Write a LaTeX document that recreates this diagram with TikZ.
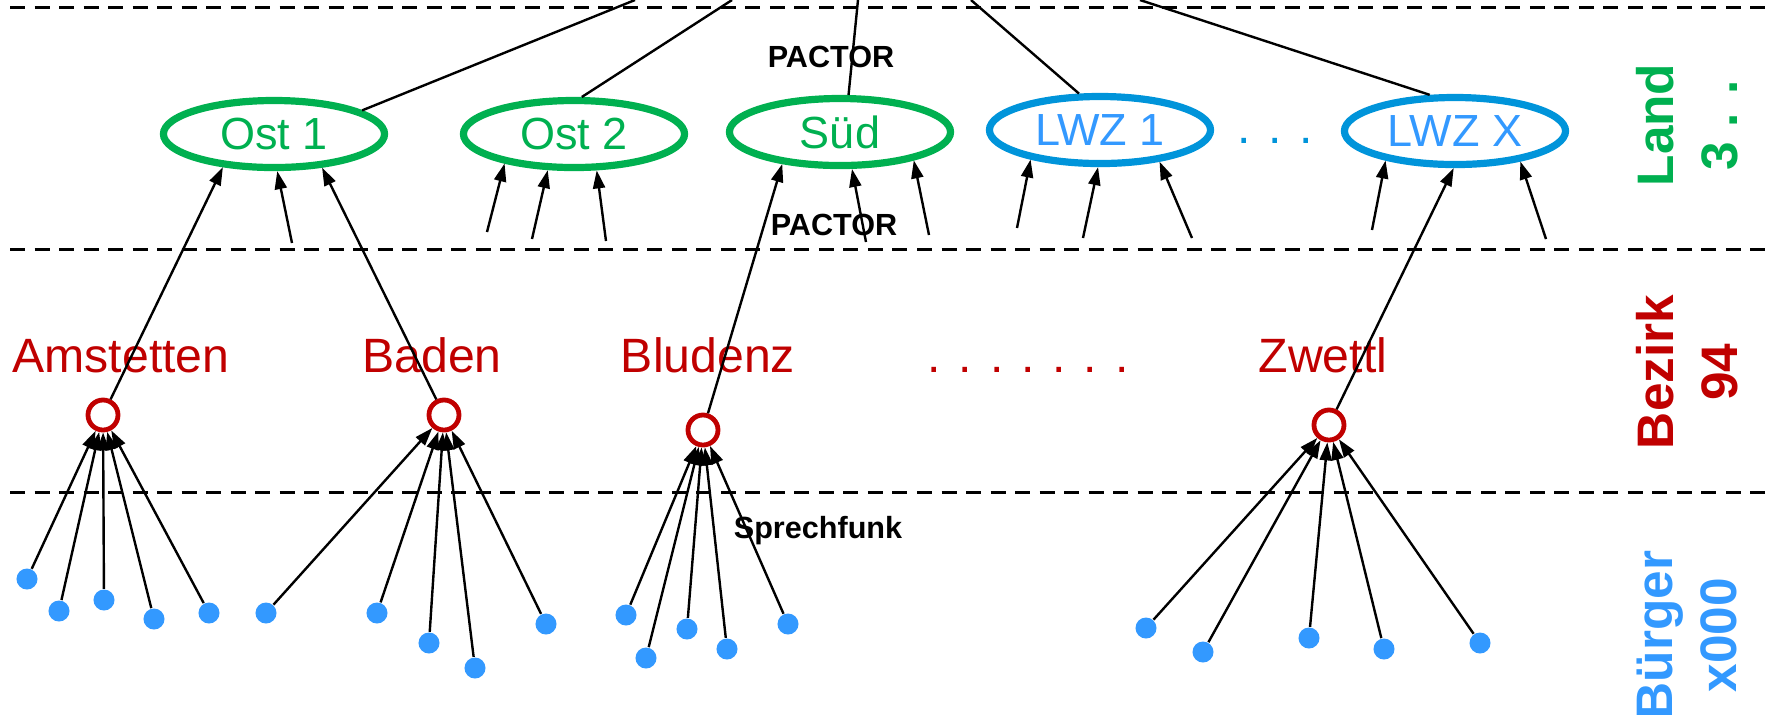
\documentclass[tikz,border=0pt]{standalone}
\usepackage{fontspec}
\setmainfont{Liberation Sans}
\usetikzlibrary{arrows.meta,shapes.geometric}
\definecolor{landgreen}{RGB}{0,176,80}
\definecolor{bezirkred}{RGB}{192,0,0}
\definecolor{lwzblue}{RGB}{0,148,218}
\definecolor{buergerblue}{RGB}{51,153,255}
\begin{document}
\begin{tikzpicture}[x=0.01cm,y=-0.01cm,
        land/.style={ellipse,draw=landgreen,line width=0.072cm,minimum width=2.21cm,minimum height=0.67cm,inner sep=0pt,text=landgreen,font=\fontsize{12.8}{15}\selectfont},
        lwz/.style={land,draw=lwzblue,text=buergerblue},
        bezirk/.style={circle,draw=bezirkred,line width=0.048cm,minimum size=0.3cm,inner sep=0pt},
        bname/.style={anchor=base,text=bezirkred,font=\fontsize{13.7}{16}\selectfont},
        buerger/.style={circle,fill=buergerblue,minimum size=0.21cm,inner sep=0pt},
        funk/.style={anchor=base,font=\bfseries\fontsize{8.7}{10}\selectfont},
        ebene/.style={rotate=90,align=center,font=\bfseries\fontsize{14.6}{18.2}\selectfont},
        grenze/.style={dash pattern=on 0.15cm off 0.095cm,line width=0.03cm},
        pfeil/.style={-{Triangle[length=0.18cm,width=0.12cm]},line width=0.024cm}]
        \useasboundingbox (0,0) rectangle (1768,714);
        \draw[grenze] (10,7) -- (1768,7);
        \draw[grenze] (10,249) -- (1768,249);
        \draw[grenze] (10,492) -- (1768,492);
        \draw
        (274,134) node[land] (ost1) {Ost 1}
        (574,134) node[land] (ost2) {Ost 2}
        (840,132) node[land] (sued) {Süd}
        (1100,130) node[lwz] (lwz1) {LWZ 1}
        (1455,131) node[lwz] (lwzx) {LWZ X}
        (1275,143) node[anchor=base,text=lwzblue,font=\fontsize{13.7}{16}\selectfont] (lwzdots) {. . .}
        (831,67) node[funk] (pactor1) {PACTOR}
        (834,235) node[funk] (pactor2) {PACTOR}
        (818,538) node[funk] (sprechfunk) {Sprechfunk}
        (103,415) node[bezirk] (amst) {}
        (444,415) node[bezirk] (baden) {}
        (703,430) node[bezirk] (bludenz) {}
        (1329,425) node[bezirk] (zwettl) {}
        (121,372) node[bname] (amstname) {Amstetten}
        (432,372) node[bname] (badenname) {Baden}
        (708,372) node[bname] (bludenzname) {Bludenz}
        (1323,372) node[bname] (zwettlname) {Zwettl}
        (1028,372) node[bname] (bezirkdots) {. . . . . . .}
        (1687,125) node[ebene,text=landgreen] (landlabel) {Land\\3 . .}
        (1687,372) node[ebene,text=bezirkred] (bezirklabel) {Bezirk\\94}
        (1687,635) node[ebene,text=buergerblue] (buergerlabel) {Bürger\\x000}
        (27,579) node[buerger] (a1) {}
        (59,611) node[buerger] (a2) {}
        (104,600) node[buerger] (a3) {}
        (154,619) node[buerger] (a4) {}
        (209,613) node[buerger] (a5) {}
        (266,613) node[buerger] (b1) {}
        (377,613) node[buerger] (b2) {}
        (429,643) node[buerger] (b3) {}
        (475,668) node[buerger] (b4) {}
        (546,624) node[buerger] (b5) {}
        (626,615) node[buerger] (c1) {}
        (646,658) node[buerger] (c2) {}
        (687,629) node[buerger] (c3) {}
        (727,649) node[buerger] (c4) {}
        (788,624) node[buerger] (c5) {}
        (1146,628) node[buerger] (d1) {}
        (1203,652) node[buerger] (d2) {}
        (1309,638) node[buerger] (d3) {}
        (1384,649) node[buerger] (d4) {}
        (1480,643) node[buerger] (d5) {}
        ;
        \coordinate (ost1a) at (292,243);
        \coordinate (ost2a) at (487,232);
        \coordinate (ost2b) at (532,239);
        \coordinate (ost2c) at (606,241);
        \coordinate (sueda) at (866,242);
        \coordinate (suedb) at (929,235);
        \coordinate (lwz1a) at (1017,228);
        \coordinate (lwz1b) at (1083,238);
        \coordinate (lwz1c) at (1192,238);
        \coordinate (lwzxa) at (1372,230);
        \coordinate (lwzxb) at (1546,239);
        \coordinate (ost1top) at (635,0);
        \coordinate (ost2top) at (732,0);
        \coordinate (suedtop) at (858,0);
        \coordinate (lwz1top) at (971,0);
        \coordinate (lwzxtop) at (1140,0);
        \draw[line width=0.024cm] (ost1.15) -- (ost1top);
        \draw[line width=0.024cm] (ost2.78) -- (ost2top);
        \draw[line width=0.024cm] (sued.77) -- (suedtop);
        \draw[line width=0.024cm] (lwz1.120) -- (lwz1top);
        \draw[line width=0.024cm] (lwzx.125) -- (lwzxtop);
        \draw[pfeil] (amst) -- (ost1.213);
        \draw[pfeil] (baden) -- (ost1.325);
        \draw[pfeil] (bludenz) -- (sued.209);
        \draw[pfeil] (zwettl) -- (lwzx.268);
        \draw[pfeil] (ost1a) -- (ost1.275);
        \draw[pfeil] (ost2a) -- (ost2.203);
        \draw[pfeil] (ost2b) -- (ost2.234);
        \draw[pfeil] (ost2c) -- (ost2.302);
        \draw[pfeil] (sueda) -- (sued.288);
        \draw[pfeil] (suedb) -- (sued.339);
        \draw[pfeil] (lwz1a) -- (lwz1.203);
        \draw[pfeil] (lwz1b) -- (lwz1.267);
        \draw[pfeil] (lwz1c) -- (lwz1.332);
        \draw[pfeil] (lwzxa) -- (lwzx.203);
        \draw[pfeil] (lwzxb) -- (lwzx.335);
        \draw[pfeil] (a1) -- (amst);
        \draw[pfeil] (a2) -- (amst);
        \draw[pfeil] (a3) -- (amst);
        \draw[pfeil] (a4) -- (amst);
        \draw[pfeil] (a5) -- (amst);
        \draw[pfeil] (b1) -- (baden);
        \draw[pfeil] (b2) -- (baden);
        \draw[pfeil] (b3) -- (baden);
        \draw[pfeil] (b4) -- (baden);
        \draw[pfeil] (b5) -- (baden);
        \draw[pfeil] (c1) -- (bludenz);
        \draw[pfeil] (c2) -- (bludenz);
        \draw[pfeil] (c3) -- (bludenz);
        \draw[pfeil] (c4) -- (bludenz);
        \draw[pfeil] (c5) -- (bludenz);
        \draw[pfeil] (d1) -- (zwettl);
        \draw[pfeil] (d2) -- (zwettl);
        \draw[pfeil] (d3) -- (zwettl);
        \draw[pfeil] (d4) -- (zwettl);
        \draw[pfeil] (d5) -- (zwettl);
\end{tikzpicture}
\end{document}
